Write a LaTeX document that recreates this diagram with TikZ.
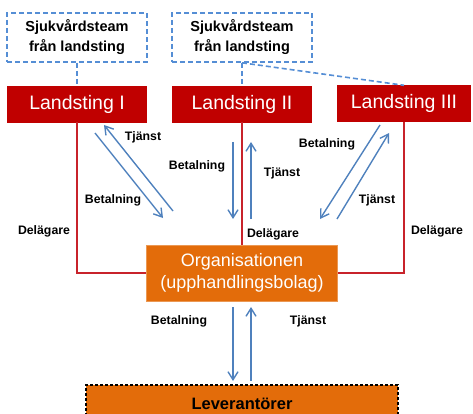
\documentclass[tikz,border=0pt]{standalone}
\usepackage{fontspec}
\setmainfont{Liberation Sans}
\usetikzlibrary{arrows.meta}
\definecolor{lred}{HTML}{C00000}
\definecolor{lline}{HTML}{C8232B}
\definecolor{orgor}{HTML}{E36C0A}
\definecolor{flowblue}{HTML}{4F81BD}
\definecolor{teamblue}{HTML}{558ED5}
\tikzset{
  teambox/.style={draw=teamblue, dashed, dash pattern=on 5pt off 3pt, line width=1.6pt,
    minimum width=140pt, minimum height=49pt, align=center, inner sep=0pt,
    font=\fontsize{14.5}{20}\selectfont\bfseries},
  cbox/.style={fill=lred, draw=lred, text=white, minimum height=36pt, inner sep=0pt,
    font=\fontsize{19.5}{22}\selectfont},
  orgbox/.style={fill=orgor, draw=orgor!70!white, text=white, minimum width=191pt,
    minimum height=56pt, inner sep=0pt, align=center, font=\fontsize{18}{22}\selectfont},
  levbox/.style={fill=orgor, draw=black, dashed, dash pattern=on 3pt off 2pt, line width=1.1pt,
    minimum width=312pt, minimum height=38pt, inner sep=0pt,
    font=\fontsize{16.5}{20}\selectfont\bfseries},
  teamlink/.style={draw=teamblue, dashed, dash pattern=on 5pt off 3pt, line width=1.6pt},
  owner/.style={draw=lline, line width=1.6pt},
  flow/.style={draw=flowblue, line width=1.4pt, -{Straight Barb[length=8pt,width=10pt]}},
  lbl/.style={font=\fontsize{12.3}{14}\selectfont\bfseries, inner sep=0pt}
}
\begin{document}
\begin{tikzpicture}[x=1pt,y=-1pt]
\useasboundingbox (0,0) rectangle (473,414);

% care teams from the county councils
\node[teambox] (sj1) at (77,37.5) {Sjukvårdsteam\\från landsting};
\node[teambox] (sj2) at (242,37.5) {Sjukvårdsteam\\från landsting};

% county councils
\node[cbox, minimum width=139pt] (l1) at (77,104) {Landsting I};
\node[cbox, minimum width=139pt] (l2) at (242,104) {Landsting II};
\node[cbox, minimum width=133pt] (l3) at (404,103.5) {Landsting III};

% procurement company and suppliers
\node[orgbox] (org) at (242,273) {Organisationen\\(upphandlingsbolag)};
\node[levbox] (lev) at (242,404) {Leverantörer};

% team links
\draw[teamlink] (sj1.south) -- (l1.north);
\draw[teamlink] (sj2.south) -- (l2.north);
\draw[teamlink] (sj2.south) -- (l3.north);

% ownership lines
\draw[owner] (l1.south) |- (org.west);
\draw[owner] (l2.south) -- (org.north);
\draw[owner] (l3.south) |- (org.east);
\node[lbl] (d1) at (44,231) {Delägare};
\node[lbl] (d2) at (273,234) {Delägare};
\node[lbl] (d3) at (437,231) {Delägare};

% flows between Landsting I and the company
\coordinate (a1s) at (95,133);  \coordinate (a1e) at (163,218);
\coordinate (b1s) at (173,211); \coordinate (b1e) at (104,125);
\draw[flow] (a1s) -- (a1e);
\draw[flow] (b1s) -- (b1e);
\node[lbl] (t1) at (143,137) {Tjänst};
\node[lbl] (p1) at (113,200) {Betalning};

% flows between Landsting II and the company
\coordinate (a2s) at (233,142); \coordinate (a2e) at (233,219);
\coordinate (b2s) at (251,219); \coordinate (b2e) at (251,142);
\draw[flow] (a2s) -- (a2e);
\draw[flow] (b2s) -- (b2e);
\node[lbl] (p2) at (197,166) {Betalning};
\node[lbl] (t2) at (282,173) {Tjänst};

% flows between Landsting III and the company
\coordinate (a3s) at (380,125); \coordinate (a3e) at (320,219);
\coordinate (b3s) at (337,219); \coordinate (b3e) at (389,133);
\draw[flow] (a3s) -- (a3e);
\draw[flow] (b3s) -- (b3e);
\node[lbl] (p3) at (327,144) {Betalning};
\node[lbl] (t3) at (377,200) {Tjänst};

% flows between the company and the suppliers
\coordinate (a4s) at (233,307); \coordinate (a4e) at (233,381);
\coordinate (b4s) at (251,381); \coordinate (b4e) at (251,307);
\draw[flow] (a4s) -- (a4e);
\draw[flow] (b4s) -- (b4e);
\node[lbl] (p4) at (179,321) {Betalning};
\node[lbl] (t4) at (308,321) {Tjänst};
\end{tikzpicture}
\end{document}
